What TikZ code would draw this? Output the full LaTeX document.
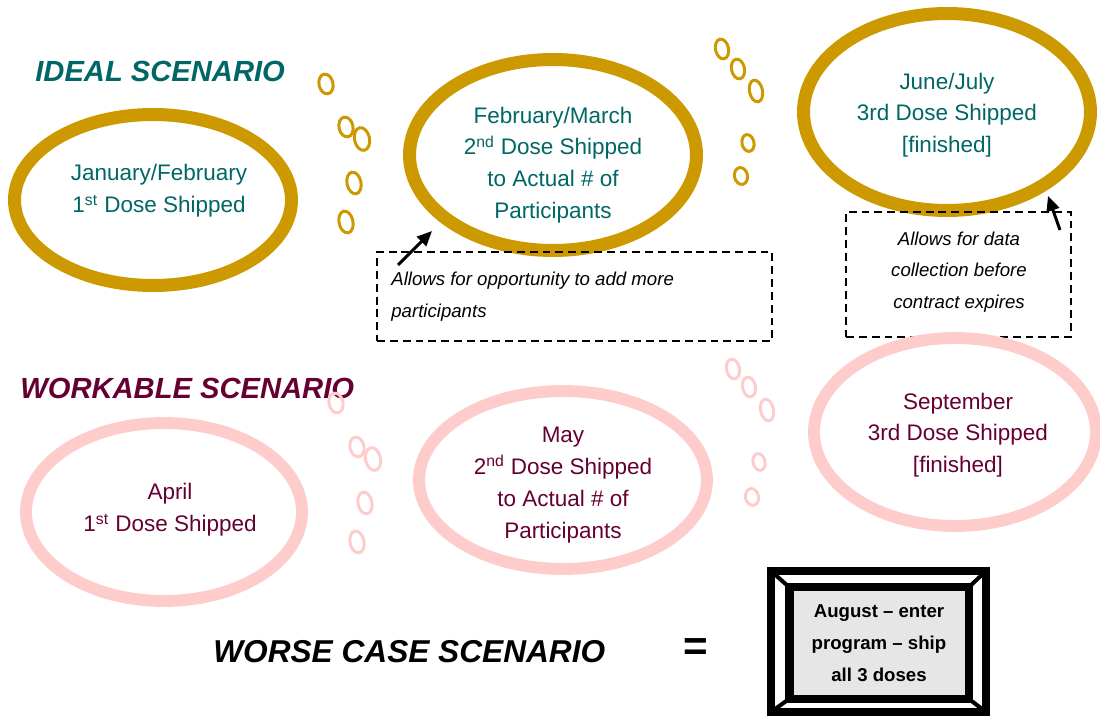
\documentclass[tikz,border=0pt]{standalone}
\usepackage{fontspec}
\setmainfont{Liberation Sans}
\usetikzlibrary{positioning,arrows.meta,shapes.geometric}
\definecolor{gold}{HTML}{CC9900}
\definecolor{ideal}{HTML}{006666}
\definecolor{work}{HTML}{660033}
\definecolor{rose}{HTML}{FFCCCC}
\definecolor{panel}{HTML}{E6E6E6}

\begin{document}
\begin{tikzpicture}[
  x=0.02cm,y=-0.02cm,
  >={Triangle[length=3mm,width=2.6mm]},
  ring/.style={ellipse,inner sep=0pt,line width=7.4pt},
  goldring/.style={ring,draw=gold},
  rosering/.style={ring,draw=rose,line width=6.8pt},
  otext/.style={align=center,inner sep=0pt,font=\fontsize{12.8}{18.1}\selectfont},
  note/.style={draw,dash pattern=on 4.5pt off 2.8pt,line width=1.4pt,inner sep=0pt},
  ntext/.style={inner sep=0pt,font=\fontsize{10.6}{18.1}\selectfont\itshape},
  heading/.style={inner sep=0pt,anchor=west,font=\fontsize{16.6}{20}\selectfont\bfseries\itshape},
  bub/.style={line width=1.7pt},
]
\useasboundingbox (0,0) rectangle (1100,719);

% ideal row
\node[heading,text=ideal] (idealT) at (35,71) {IDEAL SCENARIO};
\node[goldring,minimum width=5.54cm,minimum height=3.42cm] (jan) at (153,200) {};
\node[goldring,minimum width=5.74cm,minimum height=3.82cm] (feb) at (553,155) {};
\node[goldring,minimum width=5.74cm,minimum height=3.94cm] (jun) at (947,112) {};
\node[otext,text=ideal] (janT) at (159,191) {January/February\\1\textsuperscript{st} Dose Shipped};
\node[otext,text=ideal] (febT) at (553,165) {February/March\\2\textsuperscript{nd} Dose Shipped\\to Actual \# of\\Participants};
\node[otext,text=ideal] (junT) at (947,115) {June/July\\3rd Dose Shipped\\{[finished]}};

% notes
\node[note,minimum width=7.9cm,minimum height=1.78cm] (oppbox) at (574.5,296.5) {};
\node[ntext,align=left,anchor=west] (oppT) at (391,297) {Allows for opportunity to add more\\participants};
\node[note,minimum width=4.5cm,minimum height=2.5cm] (databox) at (958.5,274.5) {};
\node[ntext,align=center] (dataT) at (959,272) {Allows for data\\collection before\\contract expires};
\coordinate (opp0) at (398,265);
\coordinate (opp1) at (432,231);
\coordinate (data0) at (1060,230);
\coordinate (data1) at (1048,196);
\draw[->,line width=1.7pt] (opp0) -- (opp1);
\draw[->,line width=1.7pt] (data0) -- (data1);

% workable row
\node[heading,text=work] (workT) at (20,388) {WORKABLE SCENARIO};
\node[rosering,minimum width=5.52cm,minimum height=3.56cm] (apr) at (164,512) {};
\node[rosering,minimum width=5.76cm,minimum height=3.56cm] (may) at (563,480) {};
\node[rosering,minimum width=5.64cm,minimum height=3.76cm] (sep) at (955,432) {};
\node[otext,text=work] (aprT) at (170,510) {April\\1\textsuperscript{st} Dose Shipped};
\node[otext,text=work] (mayT) at (563,485) {May\\2\textsuperscript{nd} Dose Shipped\\to Actual \# of\\Participants};
\node[otext,text=work] (sepT) at (958,435) {September\\3rd Dose Shipped\\{[finished]}};

% bubbles
\foreach \x/\y/\a/\b in {326/84/7/10,346/127/7/10,362/139/7.5/11.5,354/183/7/11,346/222/7/11,
                         722/49/6.5/10,738/69/6.5/10,756/91/6.5/11,748/143/6/8.5,741/176/6.5/8.5}
  \draw[bub,gold,rotate around={12:(\x,\y)}] (\x,\y) ellipse [x radius=\a,y radius=\b];
\foreach \x/\y/\a/\b in {336/403/7/10,357/447/7/10,373/459/7.5/11.5,365/503/7/11,357/542/7/11,
                         733/369/6.5/10,749/387/6.5/10,767/410/6.5/11,759/462/6/8.5,752/497/6.5/8.5}
  \draw[bub,rose,rotate around={12:(\x,\y)}] (\x,\y) ellipse [x radius=\a,y radius=\b];

% worst case
\node[heading,font=\fontsize{18}{22}\selectfont\bfseries\itshape] (worseT) at (213,652) {WORSE CASE SCENARIO};
\node[inner sep=0pt,font=\fontsize{24}{28}\selectfont\bfseries] (eq) at (696,650) {=};
\node[draw,fill=white,line width=4.5pt,outer sep=0pt,minimum width=4.3cm,minimum height=2.82cm] (frame) at (878.5,641.5) {};
\node[outer sep=0pt,inner sep=0pt,minimum width=3.6cm,minimum height=2.24cm] (slot) at (879,643) {};
\foreach \c in {north west,north east,south west,south east}
  \draw[line width=2.3pt] (frame.\c) -- (slot.\c);
\node[draw,fill=panel,line width=5.1pt,outer sep=0pt,minimum width=3.6cm,minimum height=2.24cm,
      align=center,font=\fontsize{10.6}{18.1}\selectfont\bfseries] (aug) at (879,643) {August -- enter\\program -- ship\\all 3 doses};
\end{tikzpicture}
\end{document}
